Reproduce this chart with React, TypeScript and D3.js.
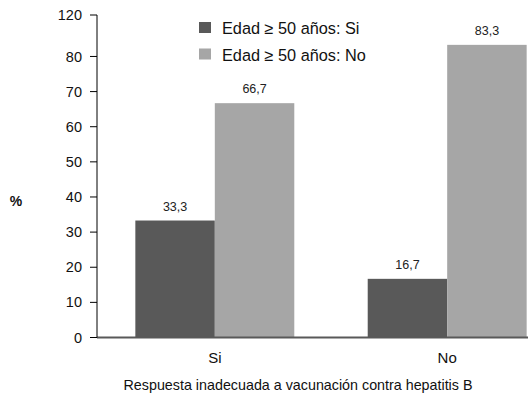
import React from "react";
import * as d3 from "d3";

const categories = ["Si", "No"];
const seriesNames = ["Edad ≥ 50 años: Si", "Edad ≥ 50 años: No"];
const seriesSi = [33.3, 66.7];
const seriesNo = [16.7, 83.3];
const tickValues = [0, 10, 20, 30, 40, 50, 60, 70, 80];
const topTickLabel = "120";
const yAxisTitle = "%";
const xAxisTitle = "Respuesta inadecuada a vacunación contra hepatitis B";

const W = 528;
const H = 395;
const colors = ["#595959", "#a6a6a6"];
const font = "'Liberation Sans', Arial, sans-serif";

export default function App() {
  const left = 97;
  const bottom = 337.5;
  const top = 15;
  const yMax = 91.8;
  const y = d3.scaleLinear().domain([0, yMax]).range([bottom, top]);
  const x0 = d3
    .scaleBand<string>()
    .domain(categories)
    .range([left, left + 468])
    .paddingInner(0.316)
    .paddingOuter(0.165);
  const x1 = d3
    .scaleBand<number>()
    .domain([0, 1])
    .range([0, x0.bandwidth()]);

  const byCat: Record<string, number[]> = {
    Si: seriesSi,
    No: seriesNo,
  };
  const fmt = (v: number) => d3.format(".1f")(v).replace(".", ",");
  const ticks = [...tickValues.map((v) => ({ v, label: String(v) })), { v: yMax, label: topTickLabel }];

  return (
    <svg width={W} height={H} style={{ position: "absolute", left: 0, top: 0 }} fontFamily={font}>
      <rect width={W} height={H} fill="#fff" />
      {categories.map((c) =>
        byCat[c].map((v, i) => (
          <g key={c + i}>
            <rect
              x={(x0(c) as number) + (x1(i) as number)}
              y={y(v)}
              width={x1.bandwidth()}
              height={bottom - y(v)}
              fill={colors[i]}
            />
            <text
              x={(x0(c) as number) + (x1(i) as number) + x1.bandwidth() / 2}
              y={y(v) - 10}
              textAnchor="middle"
              fontSize={12.5}
              fill="#222"
            >
              {fmt(v)}
            </text>
          </g>
        ))
      )}
      <line x1={left} x2={W} y1={bottom} y2={bottom} stroke="#595959" strokeWidth={2} />
      <line x1={left} x2={left} y1={top} y2={bottom} stroke="#000" strokeWidth={1} />
      {ticks.map((t) => (
        <g key={t.label}>
          <line x1={left - 7} x2={left} y1={y(t.v)} y2={y(t.v)} stroke="#000" />
          <text x={left - 15} y={y(t.v)} dy="0.35em" textAnchor="end" fontSize={14.5} fill="#111">
            {t.label}
          </text>
        </g>
      ))}
      {categories.map((c) => (
        <text
          key={c}
          x={(x0(c) as number) + x0.bandwidth() / 2}
          y={363}
          textAnchor="middle"
          fontSize={15}
          fill="#111"
        >
          {c}
        </text>
      ))}
      <text x={298} y={390} textAnchor="middle" fontSize={14.3} fill="#111">
        {xAxisTitle}
      </text>
      <text x={16} y={206} textAnchor="middle" fontSize={14} fontWeight="bold" fill="#111">
        {yAxisTitle}
      </text>
      {seriesNames.map((s, i) => (
        <g key={s}>
          <rect x={199} y={22 + i * 26.5} width={12} height={11} fill={colors[i]} />
          <text x={222} y={34 + i * 26.5} fontSize={16.3} fill="#111">
            {s}
          </text>
        </g>
      ))}
    </svg>
  );
}
